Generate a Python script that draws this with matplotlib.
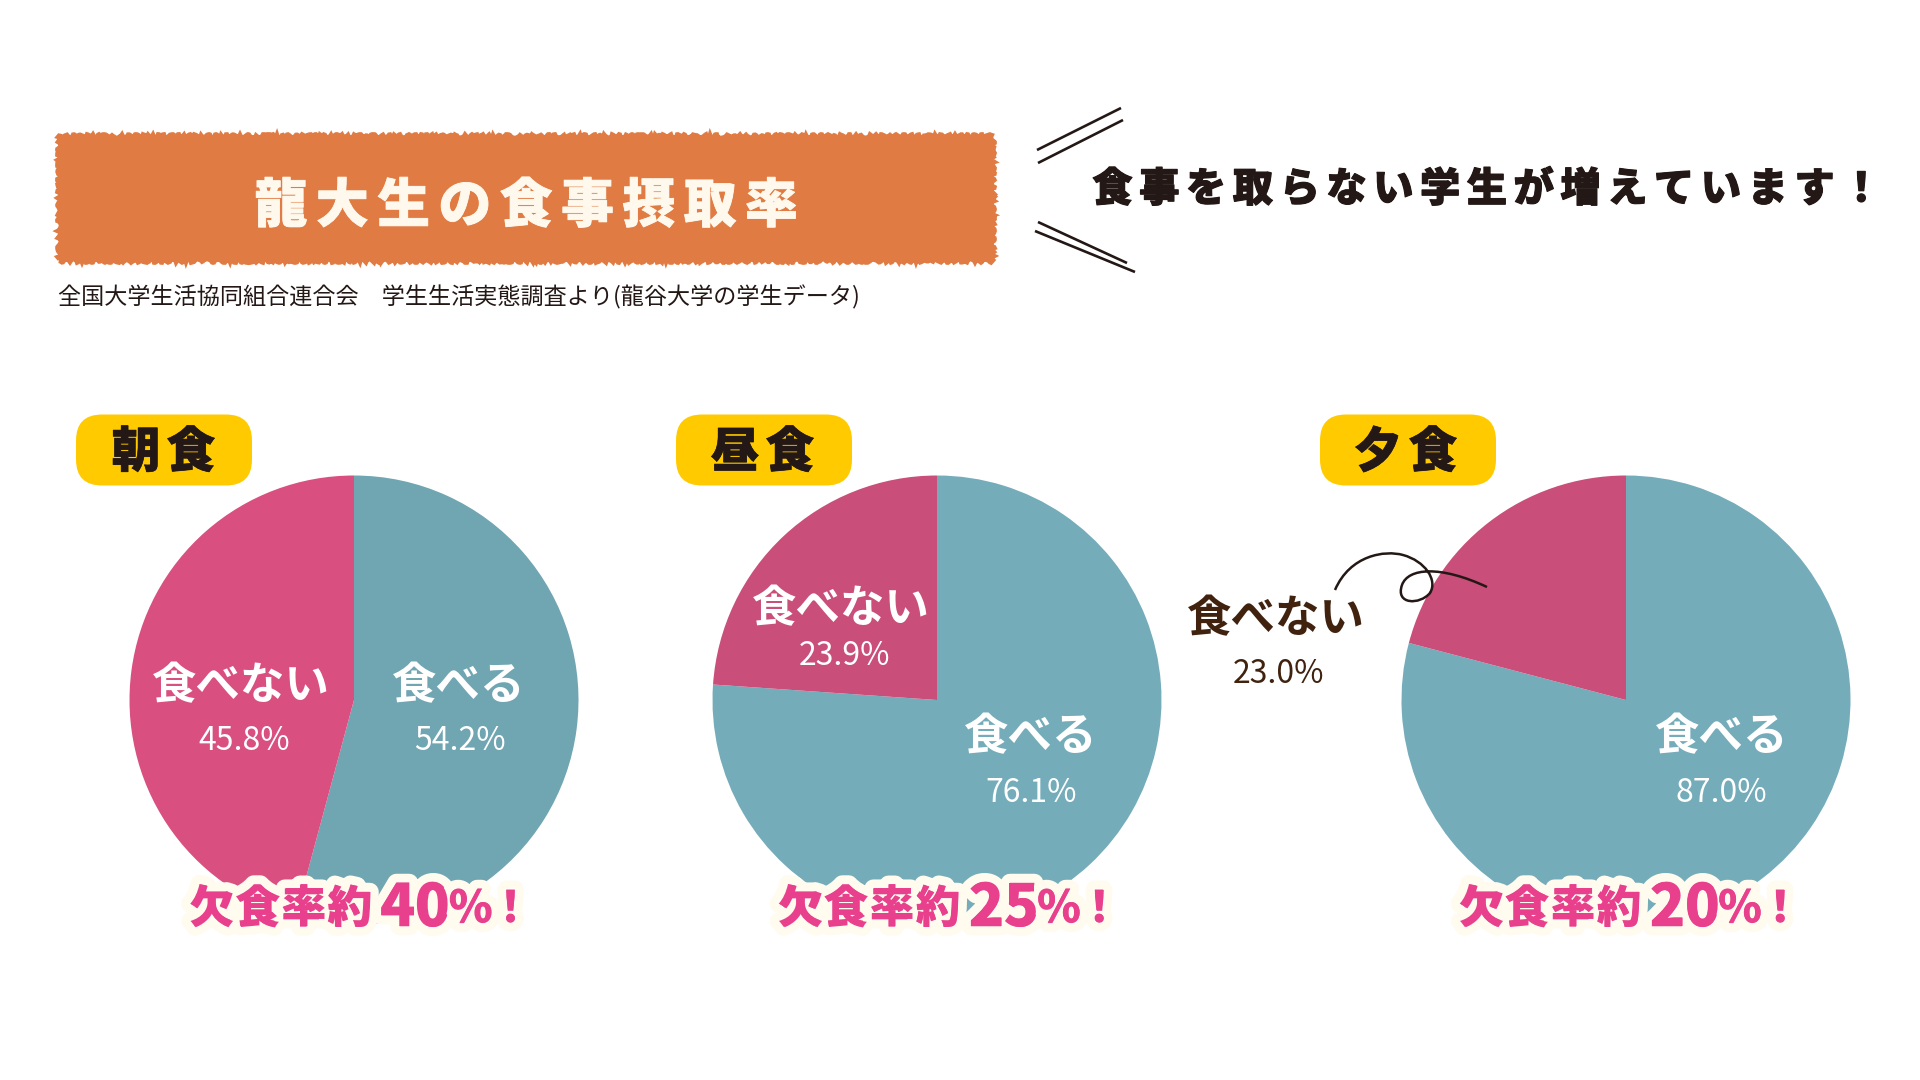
import matplotlib
matplotlib.use('Agg')
import matplotlib.pyplot as plt
import matplotlib.patheffects as pe
from matplotlib.patches import Rectangle, FancyBboxPatch, PathPatch
from matplotlib.path import Path

plt.rcParams['font.family'] = ['Noto Sans CJK JP', 'DejaVu Sans']

# ---- Data ----
meals = ['朝食', '昼食', '夕食']
eat_pct = [54.2, 76.1, 87.0]
skip_pct = [45.8, 23.9, 23.0]
skip_rate = ['40', '25', '20']

title = '龍大生の食事摂取率'
headline = '食事を取らない学生が増えています！'
source = '全国大学生活協同組合連合会　学生生活実態調査より(龍谷大学の学生データ)'

# ---- Colours ----
teal = ['#70A5B2', '#75ACBA', '#75ACBA']
pink = ['#D94F80', '#C94E79', '#C94E79']
ORANGE = '#E07C43'
CREAM = '#FFF8EC'
YELLOW = '#FFCB00'
DARK = '#231815'
BROWN = '#40220F'
ALERT = '#E8408D'

W, H = 1920, 1080


def Y(y):
    # layout below is measured from the top of the picture
    return H - y


def spaced(ax, x0, y, s, pitch, size, color, weight='bold', fatten=0):
    # letter spaced text, one char at a time; x0 = centre of first char
    for i, ch in enumerate(s):
        t = ax.text(x0 + i * pitch, Y(y), ch, fontsize=size, color=color,
                    weight=weight, ha='center', va='center', zorder=6)
        if fatten:
            t.set_path_effects([pe.withStroke(linewidth=fatten, foreground=color)])


fig = plt.figure(figsize=(19.2, 10.8), dpi=100, facecolor='white')
ax = fig.add_axes([0, 0, 1, 1])

# ---- Pies ----
centers = [354, 937, 1626]
for i in range(3):
    ax.pie([eat_pct[i], skip_pct[i]], colors=[teal[i], pink[i]], startangle=90,
           counterclock=False, center=(centers[i], Y(700)), radius=224.5, frame=True)

ax.set_xlim(0, W)
ax.set_ylim(0, H)
ax.set_aspect('equal')
ax.axis('off')

# ---- Title banner ----
banner = Rectangle((59, Y(261)), 934, 125, facecolor=ORANGE, edgecolor=ORANGE,
                   linewidth=3, zorder=3)
banner.set_sketch_params(scale=1.8, length=9, randomness=4)
ax.add_patch(banner)
spaced(ax, 281, 206.5, title, 61.3, 38, CREAM, weight='black', fatten=0.6)

ax.text(57.5, Y(297), source, fontsize=16.65, color=DARK, ha='left', va='center', zorder=6)

# ---- Headline ----
spaced(ax, 1112.5, 189.5, headline, 46.8, 29, DARK, weight='black', fatten=0.8)
for xs, ys in [((1037, 1121), (150, 108)), ((1038, 1123), (163, 120)),
               ((1038, 1127), (222, 263)), ((1035, 1135), (231, 272))]:
    ax.plot(xs, [Y(v) for v in ys], color=DARK, lw=1.9, zorder=5, solid_capstyle='butt')

# ---- Meal tags ----
tag_left = [76, 676, 1320]
tag_text = [136, 735, 1378]
for i, meal in enumerate(meals):
    tag = FancyBboxPatch((tag_left[i], Y(485.5)), 176, 71, boxstyle='round,pad=0,rounding_size=26',
                         facecolor=YELLOW, edgecolor='none', zorder=4)
    ax.add_patch(tag)
    spaced(ax, tag_text[i], 453, meal, 55, 35, DARK, weight='black', fatten=0.5)


# ---- Pie labels ----
def pie_label(x, y, name, pct, px, py, color):
    ax.text(x, Y(y), name, fontsize=32, color=color, weight='bold', ha='center',
            va='center', zorder=6)
    ax.text(px, Y(py), f'{pct:.1f}%', fontsize=23, color=color, ha='center',
            va='center', zorder=6)


pie_label(241, 686, '食べない', skip_pct[0], 244, 741, 'white')
pie_label(459, 686, '食べる', eat_pct[0], 460, 741, 'white')
pie_label(841, 609, '食べない', skip_pct[1], 845, 656, 'white')
pie_label(1031, 737, '食べる', eat_pct[1], 1031, 793, 'white')
pie_label(1276, 619, '食べない', skip_pct[2], 1278, 674, BROWN)
pie_label(1722, 737, '食べる', eat_pct[2], 1721, 793, 'white')

# ---- Curl leader on the third pie ----
verts = [(1335, 590), (1350, 555), (1385, 550), (1403, 555),
         (1425, 561), (1438, 580), (1430, 593),
         (1420, 605), (1395, 605), (1402, 585),
         (1408, 568), (1440, 565), (1487, 587)]
codes = [Path.MOVETO] + [Path.CURVE4] * 12
ax.add_patch(PathPatch(Path([(x, Y(y)) for x, y in verts], codes), facecolor='none',
                       edgecolor=DARK, lw=1.8, zorder=5))

# ---- Skip rate callouts ----
halo = [pe.withStroke(linewidth=13, foreground='#FFFBEF')]
rate_left = [188.5, 777, 1458]
for i in range(3):
    x0 = rate_left[i]
    bits = [(x0 + 23, '欠', 32), (x0 + 69, '食', 32), (x0 + 115, '率', 32), (x0 + 161, '約', 32),
            (x0 + 227, skip_rate[i], 42), (x0 + 282, '%', 32), (x0 + 322, '！', 31)]
    for x, s, size in bits:
        t = ax.text(x, Y(909), s, fontsize=size, color=ALERT, weight='black', ha='center',
                    va='center', zorder=6)
        t.set_path_effects(halo)
    # redraw on top so that a neighbour's halo does not eat the glyphs
    for x, s, size in bits:
        ax.text(x, Y(909), s, fontsize=size, color=ALERT, weight='black', ha='center',
                va='center', zorder=7)

fig.savefig('out.png', dpi=100, facecolor='white')
